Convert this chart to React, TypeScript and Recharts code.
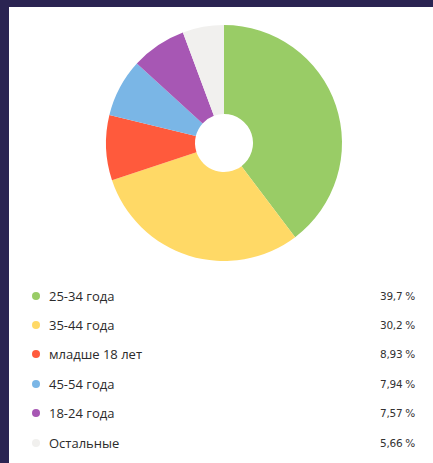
import { PieChart, Pie, Cell } from "recharts";

const categories = ["25-34 года", "35-44 года", "младше 18 лет", "45-54 года", "18-24 года", "Остальные"];
const shares = [39.7, 30.2, 8.93, 7.94, 7.57, 5.66];
const shareLabels = ["39,7 %", "30,2 %", "8,93 %", "7,94 %", "7,57 %", "5,66 %"];
const colors = ["#99cc66", "#ffd966", "#ff5a3c", "#7ab6e6", "#a757b4", "#f1f0ee"];

const data = categories.map((name, i) => ({ name, value: shares[i] }));

export default function App() {
  return (
    <div
      style={{
        position: "absolute",
        left: 0,
        top: 0,
        width: 433,
        height: 463,
        background: "#2a2452",
        overflow: "hidden",
      }}
    >
      <div
        style={{
          position: "absolute",
          left: 9,
          top: 7,
          width: 424,
          height: 456,
          background: "#ffffff",
        }}
      >
        <PieChart width={424} height={272} margin={{ top: 0, right: 0, bottom: 0, left: 0 }}>
          <Pie
            data={data}
            dataKey="value"
            nameKey="name"
            cx={215}
            cy={136}
            innerRadius={29}
            outerRadius={118}
            startAngle={90}
            endAngle={-270}
            stroke="none"
            isAnimationActive={false}
          >
            {data.map((entry, index) => (
              <Cell key={`cell-${index}`} fill={colors[index]} />
            ))}
          </Pie>
        </PieChart>

        {/* legend rows */}
        <div style={{ position: "absolute", left: 0, top: 274, width: 424 }}>
          {data.map((entry, i) => (
            <div
              key={entry.name}
              style={{
                position: "relative",
                height: 29.4,
                display: "flex",
                alignItems: "center",
              }}
            >
              <span
                style={{
                  position: "absolute",
                  left: 23,
                  width: 8,
                  height: 8,
                  borderRadius: "50%",
                  background: colors[i],
                }}
              />
              <span
                style={{
                  position: "absolute",
                  left: 40,
                  fontFamily: "'Open Sans', sans-serif",
                  fontSize: 13,
                  color: "#2b2b2b",
                }}
              >
                {entry.name}
              </span>
              <span
                style={{
                  position: "absolute",
                  right: 18,
                  fontFamily: "'DejaVu Sans', sans-serif",
                  fontSize: 10.5,
                  letterSpacing: -0.3,
                  color: "#333333",
                }}
              >
                {shareLabels[i]}
              </span>
            </div>
          ))}
        </div>
      </div>
    </div>
  );
}
